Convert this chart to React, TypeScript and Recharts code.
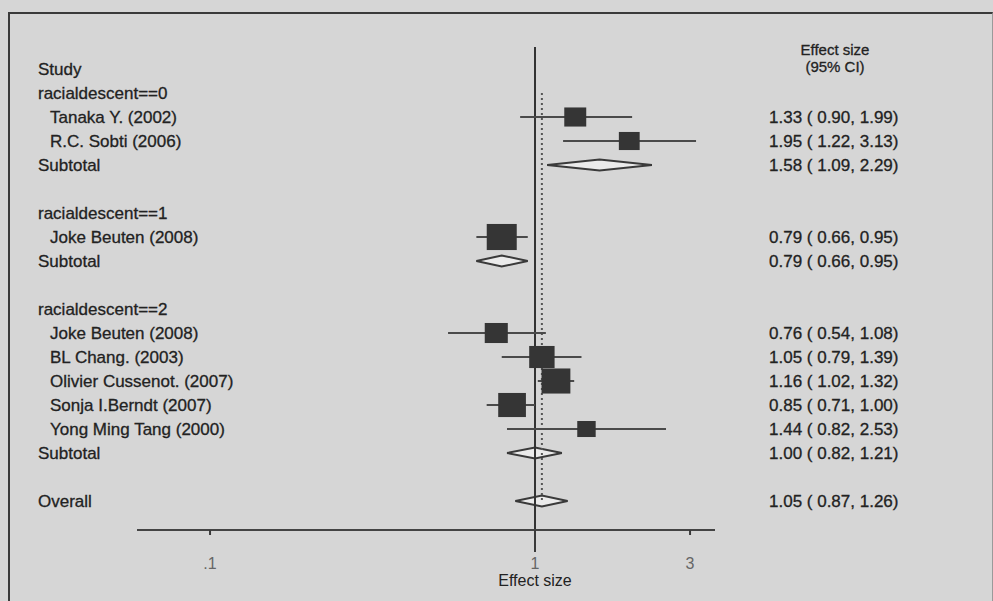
import React from 'react';
import { ComposedChart, XAxis, YAxis, Scatter, ErrorBar, Area, ReferenceLine } from 'recharts';

// subgroup headings and the studies inside them
const groupLabels = ['racialdescent==0', 'racialdescent==1', 'racialdescent==2'];
const studyNames = [
  'Tanaka Y. (2002)',
  'R.C. Sobti (2006)',
  'Joke Beuten (2008)',
  'Joke Beuten (2008)',
  'BL Chang. (2003)',
  'Olivier Cussenot. (2007)',
  'Sonja I.Berndt (2007)',
  'Yong Ming Tang (2000)',
];
const studyGroup = [0, 0, 1, 2, 2, 2, 2, 2];
const studyEffect = [1.33, 1.95, 0.79, 0.76, 1.05, 1.16, 0.85, 1.44];
const studyLower = [0.9, 1.22, 0.66, 0.54, 0.79, 1.02, 0.71, 0.82];
const studyUpper = [1.99, 3.13, 0.95, 1.08, 1.39, 1.32, 1.0, 2.53];
// percent weights, used for box area
const studyWeight = [9.8, 8.8, 18.3, 10.8, 13.1, 16.9, 15.6, 6.9];

const subtotalEffect = [1.58, 0.79, 1.0];
const subtotalLower = [1.09, 0.66, 0.82];
const subtotalUpper = [2.29, 0.95, 1.21];

const overallEffect = 1.05;
const overallLower = 0.87;
const overallUpper = 1.26;

const xTicks = [0.1, 1, 3];

const FONT = "'Liberation Sans', Arial, sans-serif";
const INK = '#222';
const BOX_SCALE = 6.1;
const DIAMOND_HALF = 0.23;

type Row = { label: string; kind: 'header' | 'group' | 'study' | 'subtotal' | 'overall' | 'blank'; text?: string };

const ciText = (e: number, lo: number, hi: number) => `${e.toFixed(2)} ( ${lo.toFixed(2)}, ${hi.toFixed(2)})`;

const rows: Row[] = [{ label: 'Study', kind: 'header' }];
const studyPoints: { x: number; row: number; err: [number, number]; weight: number }[] = [];
const diamonds: { x: number; band: [number, number] }[][] = [];

const makeDiamond = (e: number, lo: number, hi: number, row: number) => [
  { x: lo, band: [row, row] as [number, number] },
  { x: e, band: [row - DIAMOND_HALF, row + DIAMOND_HALF] as [number, number] },
  { x: hi, band: [row, row] as [number, number] },
];

groupLabels.forEach((g, gi) => {
  rows.push({ label: g, kind: 'group' });
  studyNames.forEach((name, i) => {
    if (studyGroup[i] !== gi) return;
    const row = rows.length;
    rows.push({ label: name, kind: 'study', text: ciText(studyEffect[i], studyLower[i], studyUpper[i]) });
    studyPoints.push({
      x: studyEffect[i],
      row,
      err: [studyEffect[i] - studyLower[i], studyUpper[i] - studyEffect[i]],
      weight: studyWeight[i],
    });
  });
  const row = rows.length;
  rows.push({ label: 'Subtotal', kind: 'subtotal', text: ciText(subtotalEffect[gi], subtotalLower[gi], subtotalUpper[gi]) });
  diamonds.push(makeDiamond(subtotalEffect[gi], subtotalLower[gi], subtotalUpper[gi], row));
  rows.push({ label: '', kind: 'blank' });
});
const overallRow = rows.length;
rows.push({ label: 'Overall', kind: 'overall', text: ciText(overallEffect, overallLower, overallUpper) });
diamonds.push(makeDiamond(overallEffect, overallLower, overallUpper, overallRow));

const rowTicks = rows.map((_, i) => i);
const firstStudyRow = 1;

const StudyBox = (props: any) => {
  const { cx, cy, payload } = props;
  const h = BOX_SCALE * Math.sqrt(payload.weight);
  const w = h * 1.15;
  return <rect x={cx - w / 2} y={cy - h / 2} width={w} height={h} fill="#353535" />;
};

const textProps = { fontFamily: FONT, fontSize: 17, fill: INK, stroke: INK, strokeWidth: 0.3 };

const RowTick = (props: any) => {
  const { y, payload } = props;
  const r = rows[payload.value];
  if (!r) return null;
  if (r.kind === 'header') {
    return (
      <g>
        <text x={38} y={y} dy="0.35em" {...textProps}>{r.label}</text>
        <text x={835} y={y - 19} dy="0.35em" textAnchor="middle" {...textProps} fontSize={15}>Effect size</text>
        <text x={835} y={y - 2} dy="0.35em" textAnchor="middle" {...textProps} fontSize={15}>(95% CI)</text>
      </g>
    );
  }
  return (
    <g>
      <text x={r.kind === 'study' ? 50 : 38} y={y} dy="0.35em" {...textProps}>{r.label}</text>
      {r.text && (
        <text x={769} y={y} dy="0.35em" {...textProps}>{r.text}</text>
      )}
    </g>
  );
};

const AxisTick = (props: any) => {
  const { x, y, payload } = props;
  const v = payload.value;
  const label = v < 1 ? String(v).replace(/^0/, '') : String(v);
  return (
    <g>
      <line x1={x} x2={x} y1={y} y2={y + (v === 1 ? 22 : 5)} stroke="#3a3a3a" strokeWidth={2} />
      <text x={x} y={y + 33} dy="0.35em" textAnchor="middle" fontFamily={FONT} fontSize={16} fill="#666">
        {label}
      </text>
    </g>
  );
};

export default function App() {
  return (
    <div style={{ position: 'absolute', left: 0, top: 0, width: 993, height: 601, background: '#d6d6d6', overflow: 'hidden' }}>
      <div
        style={{
          position: 'absolute',
          left: 8,
          top: 12,
          width: 982,
          height: 600,
          borderLeft: '2px solid #3a3a3a',
          borderTop: '2px solid #3a3a3a',
          borderRight: '1px solid #9a9a9a',
        }}
      />
      <div style={{ position: 'absolute', left: 0, top: 0 }}>
        <ComposedChart width={993} height={601} margin={{ top: 47, right: 278, bottom: 0, left: 0 }}>
          <XAxis
            type="number"
            dataKey="x"
            scale="log"
            domain={[0.0596, 3.58]}
            allowDataOverflow
            ticks={xTicks}
            interval={0}
            height={71}
            tickSize={0}
            tickMargin={0}
            tickLine={false}
            axisLine={{ stroke: '#444', strokeWidth: 2 }}
            tick={<AxisTick />}
          />
          <YAxis
            type="number"
            dataKey="row"
            domain={[-0.917, 19.208]}
            allowDataOverflow
            reversed
            ticks={rowTicks}
            interval={0}
            width={137}
            axisLine={false}
            tickLine={false}
            tick={<RowTick />}
          />
          <ReferenceLine
            x={1}
            stroke="#333"
            strokeWidth={2}
            label={{ value: 'Effect size', position: 'bottom', offset: 45, fill: INK, fontSize: 16, fontFamily: FONT }}
          />
          <ReferenceLine
            segment={[
              { x: overallEffect, y: firstStudyRow },
              { x: overallEffect, y: overallRow },
            ]}
            stroke="#555"
            strokeWidth={2}
            strokeDasharray="2 3"
          />
          {diamonds.map((d, i) => (
            <Area
              key={i}
              data={d}
              dataKey="band"
              type="linear"
              stroke="#3a3a3a"
              strokeWidth={2}
              fill="#ebebeb"
              fillOpacity={1}
              dot={false}
              activeDot={false}
              isAnimationActive={false}
            />
          ))}
          <Scatter data={studyPoints} shape={<StudyBox />} isAnimationActive={false}>
            <ErrorBar dataKey="err" direction="x" width={0} stroke="#4a4a4a" strokeWidth={2} />
          </Scatter>
        </ComposedChart>
      </div>
    </div>
  );
}
